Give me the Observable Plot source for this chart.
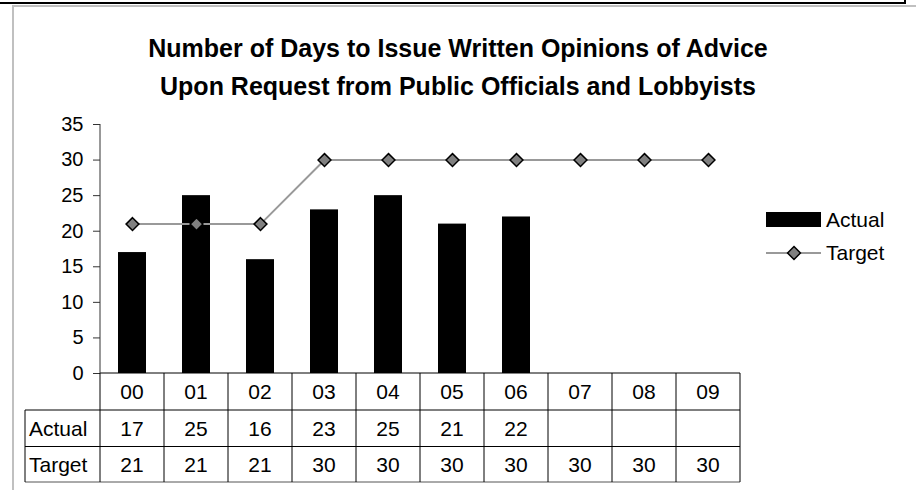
<!DOCTYPE html>
<html><head><meta charset="utf-8">
<script src="https://cdn.jsdelivr.net/npm/d3@7"></script>
<script src="https://cdn.jsdelivr.net/npm/@observablehq/plot@0.6"></script>
<style>
body{margin:0;background:#fff;}
#wrap{position:relative;width:916px;height:490px;overflow:hidden;font-family:"Liberation Sans",Arial,sans-serif;background:#fff;}
.abs{position:absolute;}
#chart svg{background:none !important;max-width:none !important;}
</style></head><body>
<div id="wrap">
 <div id="chart" class="abs" style="left:0;top:0;width:916px;height:490px"></div>
 <div id="title" class="abs" style="left:0;width:916px;top:29px;text-align:center;font-weight:bold;font-size:25px;line-height:38px;color:#000"></div>
 <div id="legend" class="abs" style="left:760px;top:200px"></div>
 <div class="abs" style="left:0;top:2px;width:906px;height:2px;background:#000"></div>
 <div class="abs" style="left:904px;top:0;width:2px;height:4px;background:#000"></div>
 <div class="abs" style="left:12px;top:5px;width:904px;height:2px;background:#c0c0c0"></div>
 <div class="abs" style="left:12px;top:5px;width:2px;height:485px;background:#c0c0c0"></div>
</div>
<script>
const titleLines = ["Number of Days to Issue Written Opinions of Advice", "Upon Request from Public Officials and Lobbyists"];
const years = ["00","01","02","03","04","05","06","07","08","09"];
const actual = [17,25,16,23,25,21,22,null,null,null];
const target = [21,21,21,30,30,30,30,30,30,30];
const yTicks = [0,5,10,15,20,25,30,35];
const seriesNames = ["Actual","Target"];

const rows = years.map((y,i)=>({year:y, actual:actual[i], target:target[i]}));
const font = '"Liberation Sans", Arial, sans-serif';

document.getElementById("title").innerHTML = titleLines.join("<br>");

function table(index, scales, values, dim) {
  const x = scales.x, bw = x.bandwidth();
  const g = d3.create("svg:g").attr("font-family", font).attr("font-size", 21).attr("fill", "black");
  const top = dim.height - dim.marginBottom;
  const rowY = [top, top + 37, top + 73.5, top + 109];
  const left = x(years[0]), right = x(years[years.length - 1]) + bw;
  const labelLeft = left - 75;
  g.append("line").attr("x1", left).attr("x2", right).attr("y1", rowY[0]).attr("y2", rowY[0]).attr("stroke", "black");
  for (let k = 1; k < rowY.length; k++) {
    g.append("line").attr("x1", labelLeft).attr("x2", right).attr("y1", rowY[k]).attr("y2", rowY[k])
      .attr("stroke", k === rowY.length - 1 ? "#555" : "black");
  }
  years.forEach((d) => {
    const xl = x(d);
    g.append("line").attr("x1", xl).attr("x2", xl).attr("y1", rowY[0]).attr("y2", rowY[3]).attr("stroke", "black");
  });
  g.append("line").attr("x1", right).attr("x2", right).attr("y1", rowY[0]).attr("y2", rowY[3]).attr("stroke", "black");
  g.append("line").attr("x1", labelLeft).attr("x2", labelLeft).attr("y1", rowY[1]).attr("y2", rowY[3]).attr("stroke", "black");
  g.append("line").attr("x1", left).attr("x2", left).attr("y1", dim.marginTop).attr("y2", rowY[0]).attr("stroke", "#333");
  const mid = k => (rowY[k] + rowY[k + 1]) / 2;
  rows.forEach((r) => {
    const cx = x(r.year) + bw / 2;
    g.append("text").attr("x", cx).attr("y", mid(0)).attr("dy", "0.35em").attr("text-anchor", "middle").text(r.year);
    if (r.actual != null) g.append("text").attr("x", cx).attr("y", mid(1)).attr("dy", "0.35em").attr("text-anchor", "middle").text(r.actual);
    if (r.target != null) g.append("text").attr("x", cx).attr("y", mid(2)).attr("dy", "0.35em").attr("text-anchor", "middle").text(r.target);
  });
  g.append("text").attr("x", labelLeft + 4).attr("y", mid(1)).attr("dy", "0.35em").attr("text-anchor", "start").text(seriesNames[0]);
  g.append("text").attr("x", labelLeft + 4).attr("y", mid(2)).attr("dy", "0.35em").attr("text-anchor", "start").text(seriesNames[1]);
  return g.node();
}

const plot = Plot.plot({
  width: 916, height: 490,
  marginTop: 124, marginBottom: 117, marginLeft: 100, marginRight: 176,
  style: {fontFamily: font, fontSize: "20px", color: "black", background: "none", overflow: "visible"},
  x: {type: "band", domain: years, padding: 0, axis: null},
  y: {domain: [0, 35]},
  marks: [
    Plot.barY(rows.filter(d => d.actual != null), {x: "year", y: "actual", fill: "black", insetLeft: 18, insetRight: 18}),
    Plot.axisY({ticks: yTicks, tickSize: 7, tickPadding: 10, fontSize: 20, stroke: "#333", fill: "black"}),
    Plot.line(rows, {x: "year", y: "target", stroke: "#999", strokeWidth: 2}),
    Plot.dot(rows, {x: "year", y: "target", symbol: "diamond2", r: 5.8, fill: "#808080", stroke: "black", strokeWidth: 1.5}),
    table
  ]
});
document.getElementById("chart").appendChild(plot);

const lg = d3.select("#legend").append("svg").attr("width", 150).attr("height", 70)
  .attr("font-family", font).attr("font-size", 21);
lg.append("rect").attr("x", 6).attr("y", 12).attr("width", 55).attr("height", 15).attr("fill", "black");
lg.append("text").attr("x", 66).attr("y", 20).attr("dy", "0.35em").text(seriesNames[0]);
lg.append("line").attr("x1", 6).attr("x2", 61).attr("y1", 53).attr("y2", 53).attr("stroke", "#999").attr("stroke-width", 2);
lg.append("path").attr("d", d3.symbol(d3.symbolDiamond2, Math.PI * 5.8 * 5.8)()).attr("transform", "translate(34,53)")
  .attr("fill", "#808080").attr("stroke", "black").attr("stroke-width", 1.5);
lg.append("text").attr("x", 66).attr("y", 53).attr("dy", "0.35em").text(seriesNames[1]);
</script>
</body></html>
